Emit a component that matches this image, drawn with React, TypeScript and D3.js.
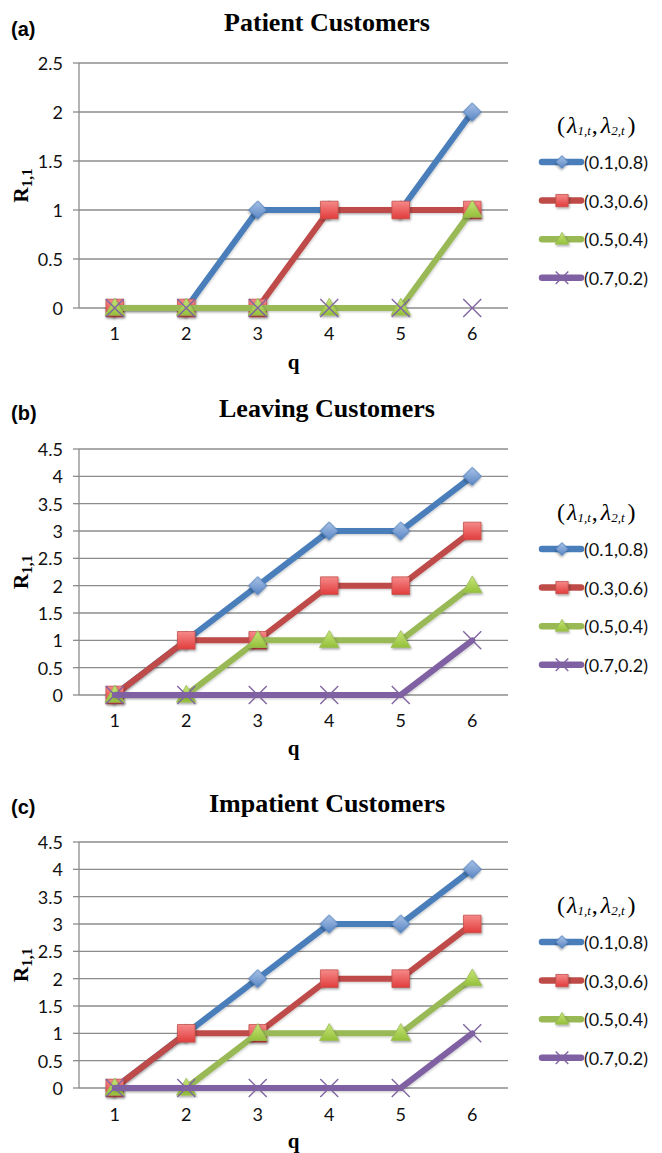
import React from 'react';
import * as d3 from 'd3';

// q values on the x axis
const categories = [1, 2, 3, 4, 5, 6];
const seriesNames = ['(0.1,0.8)', '(0.3,0.6)', '(0.5,0.4)', '(0.7,0.2)'];

// (a) patient customers
const patientS1 = [0, 0, 1, 1, 1, 2];
const patientS2 = [0, 0, 0, 1, 1, 1];
const patientS3 = [0, 0, 0, 0, 0, 1];
const patientS4 = [0, 0, 0, 0, 0, 0];

// (b) leaving customers
const leavingS1 = [0, 1, 2, 3, 3, 4];
const leavingS2 = [0, 1, 1, 2, 2, 3];
const leavingS3 = [0, 0, 1, 1, 1, 2];
const leavingS4 = [0, 0, 0, 0, 0, 1];

// (c) impatient customers
const impatientS1 = [0, 1, 2, 3, 3, 4];
const impatientS2 = [0, 1, 1, 2, 2, 3];
const impatientS3 = [0, 0, 1, 1, 1, 2];
const impatientS4 = [0, 0, 0, 0, 0, 1];

const titles = ['Patient Customers', 'Leaving Customers', 'Impatient Customers'];
const tags = ['(a)', '(b)', '(c)'];
const yTicksSmall = [0, 0.5, 1, 1.5, 2, 2.5];
const yTicksLarge = [0, 0.5, 1, 1.5, 2, 2.5, 3, 3.5, 4, 4.5];

const panelData = [
  [patientS1, patientS2, patientS3, patientS4],
  [leavingS1, leavingS2, leavingS3, leavingS4],
  [impatientS1, impatientS2, impatientS3, impatientS4],
];
const panelTicks = [yTicksSmall, yTicksLarge, yTicksLarge];

// pixel layout of each panel
const layouts = [
  { top: 63, bottom: 308, titleY: 22, tagY: 29, tickY: 333, qY: 369, legY: 125 },
  { top: 449, bottom: 695, titleY: 408, tagY: 413, tickY: 720, qY: 755, legY: 512 },
  { top: 842, bottom: 1088, titleY: 803, tagY: 807, tickY: 1114, qY: 1148, legY: 905 },
];

const W = 662;
const H = 1153;
const plotLeft = 79;
const plotRight = 508;

const lineColors = ['#4a7ebb', '#be4b48', '#98b954', '#7f60a2'];
const gridColor = '#8c8c8c';
const tickFont = 'Lato, "Open Sans", sans-serif';
const serif = '"Liberation Serif", "Times New Roman", serif';

const squareGen = d3.symbol().type(d3.symbolSquare);
const triGen = d3.symbol().type(d3.symbolTriangle);

function xPath(r: number) {
  const p = d3.path();
  p.moveTo(-r, -r);
  p.lineTo(r, r);
  p.moveTo(-r, r);
  p.lineTo(r, -r);
  return p.toString();
}

function Marker({ kind, x, y, scale = 1 }: { kind: number; x: number; y: number; scale?: number }) {
  if (kind === 0) {
    return (
      <path
        d={squareGen.size(160 * scale * scale)() as string}
        transform={`translate(${x},${y}) rotate(45)`}
        fill="url(#gBlue)"
        stroke="#4a7ebb"
        strokeWidth={0.8}
        filter="url(#shadow)"
      />
    );
  }
  if (kind === 1) {
    return (
      <path
        d={squareGen.size(310 * scale * scale)() as string}
        transform={`translate(${x},${y})`}
        fill="url(#gRed)"
        stroke="#c0504d"
        strokeWidth={0.8}
        filter="url(#shadow)"
      />
    );
  }
  if (kind === 2) {
    return (
      <path
        d={triGen.size(165 * scale * scale)() as string}
        transform={`translate(${x},${y + 1.5 * scale})`}
        fill="url(#gGreen)"
        stroke="#9bbb59"
        strokeWidth={0.8}
        filter="url(#shadow)"
      />
    );
  }
  return (
    <path
      d={xPath(9 * scale)}
      transform={`translate(${x},${y})`}
      fill="none"
      stroke="#8064a2"
      strokeWidth={1.4}
    />
  );
}

function Panel({ idx }: { idx: number }) {
  const lay = layouts[idx];
  const ticks = panelTicks[idx];
  const series = panelData[idx];
  const x = d3.scaleBand<number>().domain(categories).range([plotLeft, plotRight]);
  const xc = (c: number) => (x(c) as number) + x.bandwidth() / 2;
  const y = d3.scaleLinear().domain([0, d3.max(ticks) as number]).range([lay.bottom, lay.top]);
  const line = d3
    .line<number>()
    .x((_, i) => xc(categories[i]))
    .y((v) => y(v));
  const midY = (lay.top + lay.bottom) / 2;

  return (
    <g>
      <text x={11} y={lay.tagY} dominantBaseline="central" fontFamily='"Liberation Sans", Arial, sans-serif' fontWeight="bold" fontSize={20}>
        {tags[idx]}
      </text>
      <text x={327} y={lay.titleY} textAnchor="middle" dominantBaseline="central" fontFamily={serif} fontWeight="bold" fontSize={26}>
        {titles[idx]}
      </text>

      {ticks.map((t) => (
        <g key={t}>
          <line x1={plotLeft} x2={plotRight} y1={y(t)} y2={y(t)} stroke={gridColor} strokeWidth={1.3} />
          <line x1={plotLeft - 6} x2={plotLeft} y1={y(t)} y2={y(t)} stroke={gridColor} strokeWidth={1.3} />
          <text x={63} y={y(t)} textAnchor="end" dominantBaseline="central" fontFamily={tickFont} fontSize={18} fill="#111">
            {t}
          </text>
        </g>
      ))}
      <line x1={plotLeft} x2={plotLeft} y1={lay.top} y2={lay.bottom} stroke={gridColor} strokeWidth={1.3} />

      {categories.map((c) => (
        <text key={c} x={xc(c)} y={lay.tickY} textAnchor="middle" dominantBaseline="central" fontFamily={tickFont} fontSize={18} fill="#111">
          {c}
        </text>
      ))}

      <text x={(plotLeft + plotRight) / 2} y={lay.qY} textAnchor="middle" fontFamily={serif} fontWeight="bold" fontSize={21}>
        q
      </text>

      <text transform={`translate(28,${midY}) rotate(-90)`} textAnchor="middle" fontFamily={serif} fontWeight="bold" fontSize={21}>
        R<tspan fontSize={15} dy={4}>1,1</tspan>
      </text>

      {series.map((vals, si) => (
        <g key={si}>
          <path d={line(vals) as string} fill="none" stroke={lineColors[si]} strokeWidth={6} strokeLinejoin="round" strokeLinecap="round" filter="url(#lshadow)" />
          {vals.map((v, i) => (
            <Marker key={i} kind={si} x={xc(categories[i])} y={y(v)} />
          ))}
        </g>
      ))}

      <text x={557} y={lay.legY} dominantBaseline="central" fontFamily={serif} fontSize={24}>
        (<tspan dx={2} fontStyle="italic">λ</tspan>
        <tspan fontSize={13} dy={5} fontStyle="italic">1,t</tspan>
        <tspan dy={-5} dx={1}>,</tspan>
        <tspan dx={3} fontStyle="italic">λ</tspan>
        <tspan fontSize={13} dy={5} fontStyle="italic">2,t</tspan>
        <tspan dy={-5} dx={3}>)</tspan>
      </text>
      {seriesNames.map((name, si) => {
        const ly = lay.legY + 37 + si * 38.6;
        return (
          <g key={name}>
            <line x1={542} x2={581} y1={ly} y2={ly} stroke={lineColors[si]} strokeWidth={6.5} strokeLinecap="round" />
            <Marker kind={si} x={562} y={ly} scale={0.7} />
            <text x={584} y={ly} dominantBaseline="central" fontFamily={tickFont} fontSize={18} fill="#111">
              {name}
            </text>
          </g>
        );
      })}
    </g>
  );
}

export default function App() {
  return (
    <svg width={W} height={H} style={{ position: 'absolute', left: 0, top: 0, background: '#fff' }}>
      <defs>
        <linearGradient id="gBlue" x1="0" y1="0" x2="1" y2="1">
          <stop offset="0" stopColor="#a9c2e6" />
          <stop offset="1" stopColor="#5a86c4" />
        </linearGradient>
        <linearGradient id="gRed" x1="0" y1="0" x2="0" y2="1">
          <stop offset="0" stopColor="#f58a89" />
          <stop offset="1" stopColor="#e23c3c" />
        </linearGradient>
        <linearGradient id="gGreen" x1="0" y1="0" x2="0" y2="1">
          <stop offset="0" stopColor="#c8e67a" />
          <stop offset="1" stopColor="#94c03a" />
        </linearGradient>
        <filter id="shadow" x="-50%" y="-50%" width="200%" height="200%">
          <feDropShadow dx={1} dy={1.5} stdDeviation={1.2} floodColor="#000" floodOpacity={0.35} />
        </filter>
        <filter id="lshadow" x="-10%" y="-10%" width="120%" height="120%">
          <feDropShadow dx={0.8} dy={1.2} stdDeviation={1} floodColor="#000" floodOpacity={0.2} />
        </filter>
      </defs>
      {titles.map((_, i) => (
        <Panel key={i} idx={i} />
      ))}
    </svg>
  );
}
